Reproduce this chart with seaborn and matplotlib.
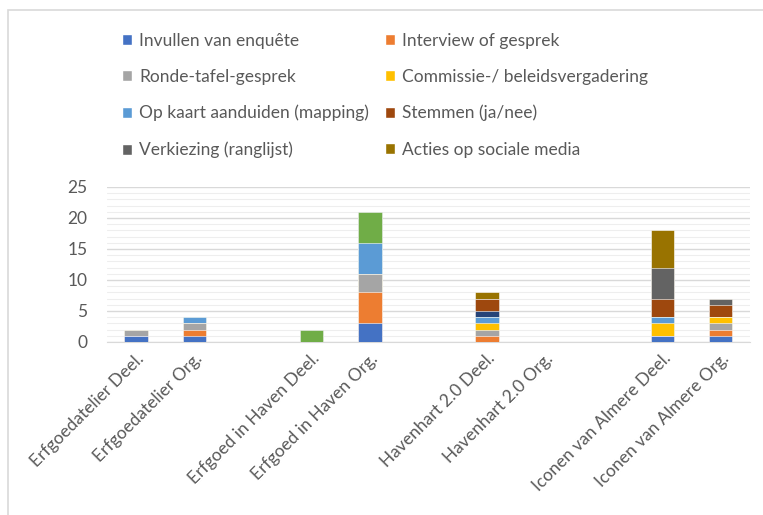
import matplotlib
matplotlib.use('Agg')
import matplotlib.pyplot as plt
import seaborn as sns
import numpy as np
import pandas as pd
from matplotlib.patches import Patch, Rectangle
from matplotlib.ticker import MultipleLocator

# categorieen (lege plekken tussen de projecten zijn aparte, lege categorieen)
categorieen = ['Erfgoedatelier Deel.', 'Erfgoedatelier Org.', ' ',
               'Erfgoed in Haven Deel.', 'Erfgoed in Haven Org.', '  ',
               'Havenhart 2.0 Deel.', 'Havenhart 2.0 Org.', '   ',
               'Iconen van Almere Deel.', 'Iconen van Almere Org.']

reeksen = ['Invullen van enquête', 'Interview of gesprek', 'Ronde-tafel-gesprek',
           'Commissie-/ beleidsvergadering', 'Op kaart aanduiden (mapping)',
           'Reeks 6', 'Reeks 7', 'Stemmen (ja/nee)', 'Verkiezing (ranglijst)',
           'Acties op sociale media']

invullen = [1, 1, 0, 0, 3, 0, 0, 0, 0, 1, 1]
interview = [0, 1, 0, 0, 5, 0, 1, 0, 0, 0, 1]
ronde_tafel = [1, 1, 0, 0, 3, 0, 1, 0, 0, 0, 1]
commissie = [0, 0, 0, 0, 0, 0, 1, 0, 0, 2, 1]
op_kaart = [0, 1, 0, 0, 5, 0, 1, 0, 0, 1, 0]
reeks6 = [0, 0, 0, 2, 5, 0, 0, 0, 0, 0, 0]
reeks7 = [0, 0, 0, 0, 0, 0, 1, 0, 0, 0, 0]
stemmen = [0, 0, 0, 0, 0, 0, 2, 0, 0, 3, 2]
verkiezing = [0, 0, 0, 0, 0, 0, 0, 0, 0, 5, 1]
acties = [0, 0, 0, 0, 0, 0, 1, 0, 0, 6, 0]

kleuren = ['#4472C4', '#ED7D31', '#A5A5A5', '#FFC000', '#5B9BD5',
           '#70AD47', '#264478', '#9E480E', '#636363', '#997300']

# reeksen die in de legenda staan (rij voor rij, 2 kolommen)
legenda = ['Invullen van enquête', 'Interview of gesprek',
           'Ronde-tafel-gesprek', 'Commissie-/ beleidsvergadering',
           'Op kaart aanduiden (mapping)', 'Stemmen (ja/nee)',
           'Verkiezing (ranglijst)', 'Acties op sociale media']

df = pd.DataFrame([invullen, interview, ronde_tafel, commissie, op_kaart,
                   reeks6, reeks7, stemmen, verkiezing, acties],
                  index=reeksen, columns=categorieen).T
cum = df.cumsum(axis=1)

sns.set_style('white')
plt.rcParams['font.family'] = ['Lato', 'DejaVu Sans']
tekst = '#595959'

fig = plt.figure(figsize=(7.63, 5.15), dpi=100)
ax = fig.add_axes([0.140, 0.336, 0.843, 0.301])

# gestapelde balken: van boven naar beneden over elkaar tekenen
for i in reversed(range(len(reeksen))):
    sns.barplot(x=categorieen, y=cum[reeksen[i]].values, order=categorieen,
                color=kleuren[i], width=0.4, saturation=1,
                edgecolor='white', linewidth=0.4, ax=ax, zorder=3)

ax.set_ylim(0, 25)
ax.set_xlim(-0.5, len(categorieen) - 0.5)
ax.yaxis.set_major_locator(MultipleLocator(5))
ax.yaxis.set_minor_locator(MultipleLocator(1))
ax.grid(axis='y', which='major', color='#d9d9d9', linewidth=1.0, zorder=0)
ax.grid(axis='y', which='minor', color='#eeeeee', linewidth=0.8, zorder=0)
ax.set_axisbelow(True)
for s in ['top', 'right', 'left']:
    ax.spines[s].set_visible(False)
ax.spines['bottom'].set_color('#d9d9d9')
ax.set_xlabel('')
ax.set_ylabel('')
ax.tick_params(axis='y', which='both', length=0, labelsize=12.5, labelcolor=tekst, pad=14)
ax.tick_params(axis='x', length=0, labelsize=12.5, labelcolor=tekst, pad=6)
plt.setp(ax.get_xticklabels(), rotation=45, ha='right', rotation_mode='anchor')

handles = [Patch(facecolor=kleuren[reeksen.index(n)], label=n) for n in legenda]
# matplotlib vult kolom voor kolom: herschikken zodat het rij voor rij leest
volgorde = [0, 2, 4, 6, 1, 3, 5, 7]
handles = [handles[i] for i in volgorde]
fig.legend(handles=handles, loc='upper left', bbox_to_anchor=(0.139, 0.967),
           ncol=2, frameon=False, fontsize=12.5, labelcolor=tekst,
           handlelength=0.6, handleheight=0.6, handletextpad=0.4,
           columnspacing=0.9, labelspacing=1.16)

# lichtgrijze rand van het grafiekgebied
fig.add_artist(Rectangle((8 / 763, -0.1), 1.2, (515 - 10) / 515 + 0.1,
                         transform=fig.transFigure, fill=False,
                         edgecolor='#d9d9d9', linewidth=1.2))

fig.savefig('out.png', dpi=100)
